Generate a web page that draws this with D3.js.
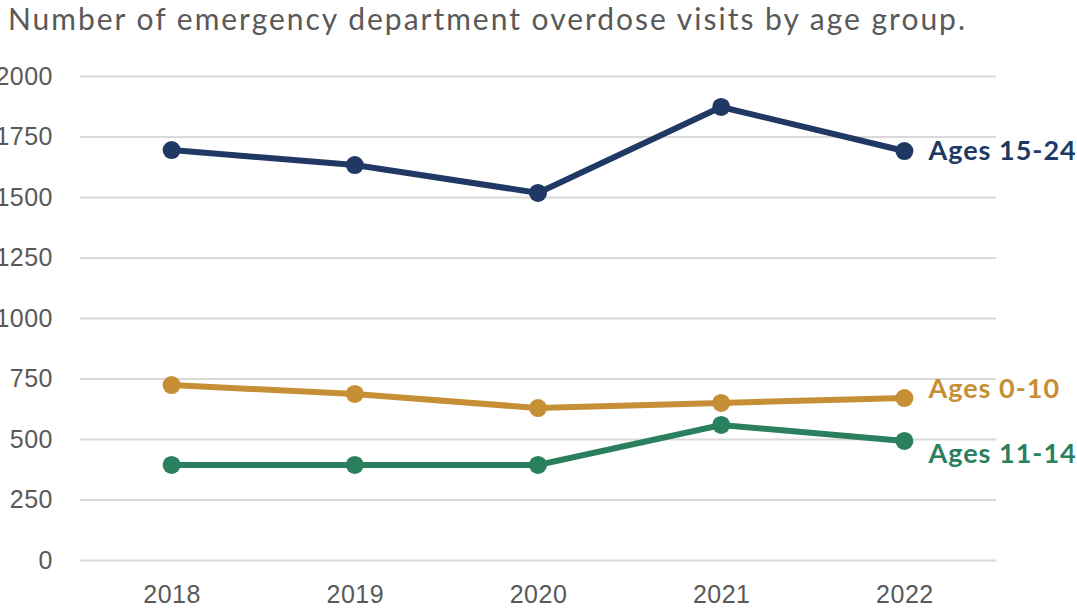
<!DOCTYPE html>
<html><head><meta charset="utf-8">
<script src="https://cdn.jsdelivr.net/npm/d3@7"></script>
<style>
body{margin:0;background:#fff;}
svg{display:block;font-family:Lato,"Open Sans",sans-serif;}
</style></head>
<body><svg id="c" width="1077" height="609"></svg>
<script>
const years = ["2018","2019","2020","2021","2022"];
const seriesNames = ["Ages 15-24","Ages 0-10","Ages 11-14"];
const ages15to24 = [1694,1632,1517,1872,1690];
const ages0to10 = [723,686,628,649,669];
const ages11to14 = [393,393,393,558,492];
const yTicks = [0,250,500,750,1000,1250,1500,1750,2000];
const colors = ["#203864","#c78f35","#2a7f5e"];
const title = "Number of emergency department overdose visits by age group.";

(function(){
const series = [ages15to24, ages0to10, ages11to14];
const svg = d3.select("#c");
const mLeft = 80, mRight = 996, mTop = 76, mBottom = 560;
const x = d3.scalePoint().domain(years).range([mLeft,mRight]).padding(0.5);
const y = d3.scaleLinear().domain([0,2000]).range([mBottom,mTop]);

svg.append("text").attr("x",8).attr("y",30).attr("fill","#595959")
  .attr("font-size",30).attr("textLength",957).attr("lengthAdjust","spacing").text(title);

const yAxis = svg.append("g").attr("transform",`translate(${mLeft},0)`)
  .call(d3.axisLeft(y).tickValues(yTicks).tickSize(-(mRight-mLeft)).tickPadding(27).tickFormat(d3.format("d")));
yAxis.select(".domain").remove();
yAxis.selectAll("line").attr("stroke","#d9d9d9").attr("stroke-width",2);
yAxis.selectAll("text").attr("fill","#595959").attr("font-size",25).attr("letter-spacing",0.5);

const xAxis = svg.append("g").attr("transform",`translate(0,${mBottom})`)
  .call(d3.axisBottom(x).tickSize(0).tickPadding(25));
xAxis.select(".domain").remove();
xAxis.selectAll("text").attr("fill","#595959").attr("font-size",25).attr("letter-spacing",0.5);

const line = d3.line().x((d,i)=>x(years[i])).y(d=>y(d));
series.forEach((s,k)=>{
  const g = svg.append("g");
  g.append("path").attr("d",line(s)).attr("fill","none").attr("stroke",colors[k]).attr("stroke-width",6);
  g.selectAll("circle").data(s).join("circle")
    .attr("cx",(d,i)=>x(years[i])).attr("cy",d=>y(d)).attr("r",9).attr("fill",colors[k]);
});
const labelY = [y(ages15to24[4]), y(ages0to10[4]) - 10, y(ages11to14[4]) + 13];
seriesNames.forEach((n,k)=>{
  svg.append("text").attr("x",x(years[4])+24).attr("y",labelY[k]).attr("dy","0.35em")
    .attr("fill",colors[k]).attr("font-size",27).attr("font-weight","bold").attr("letter-spacing",1).text(n);
});
})();
</script></body></html>
